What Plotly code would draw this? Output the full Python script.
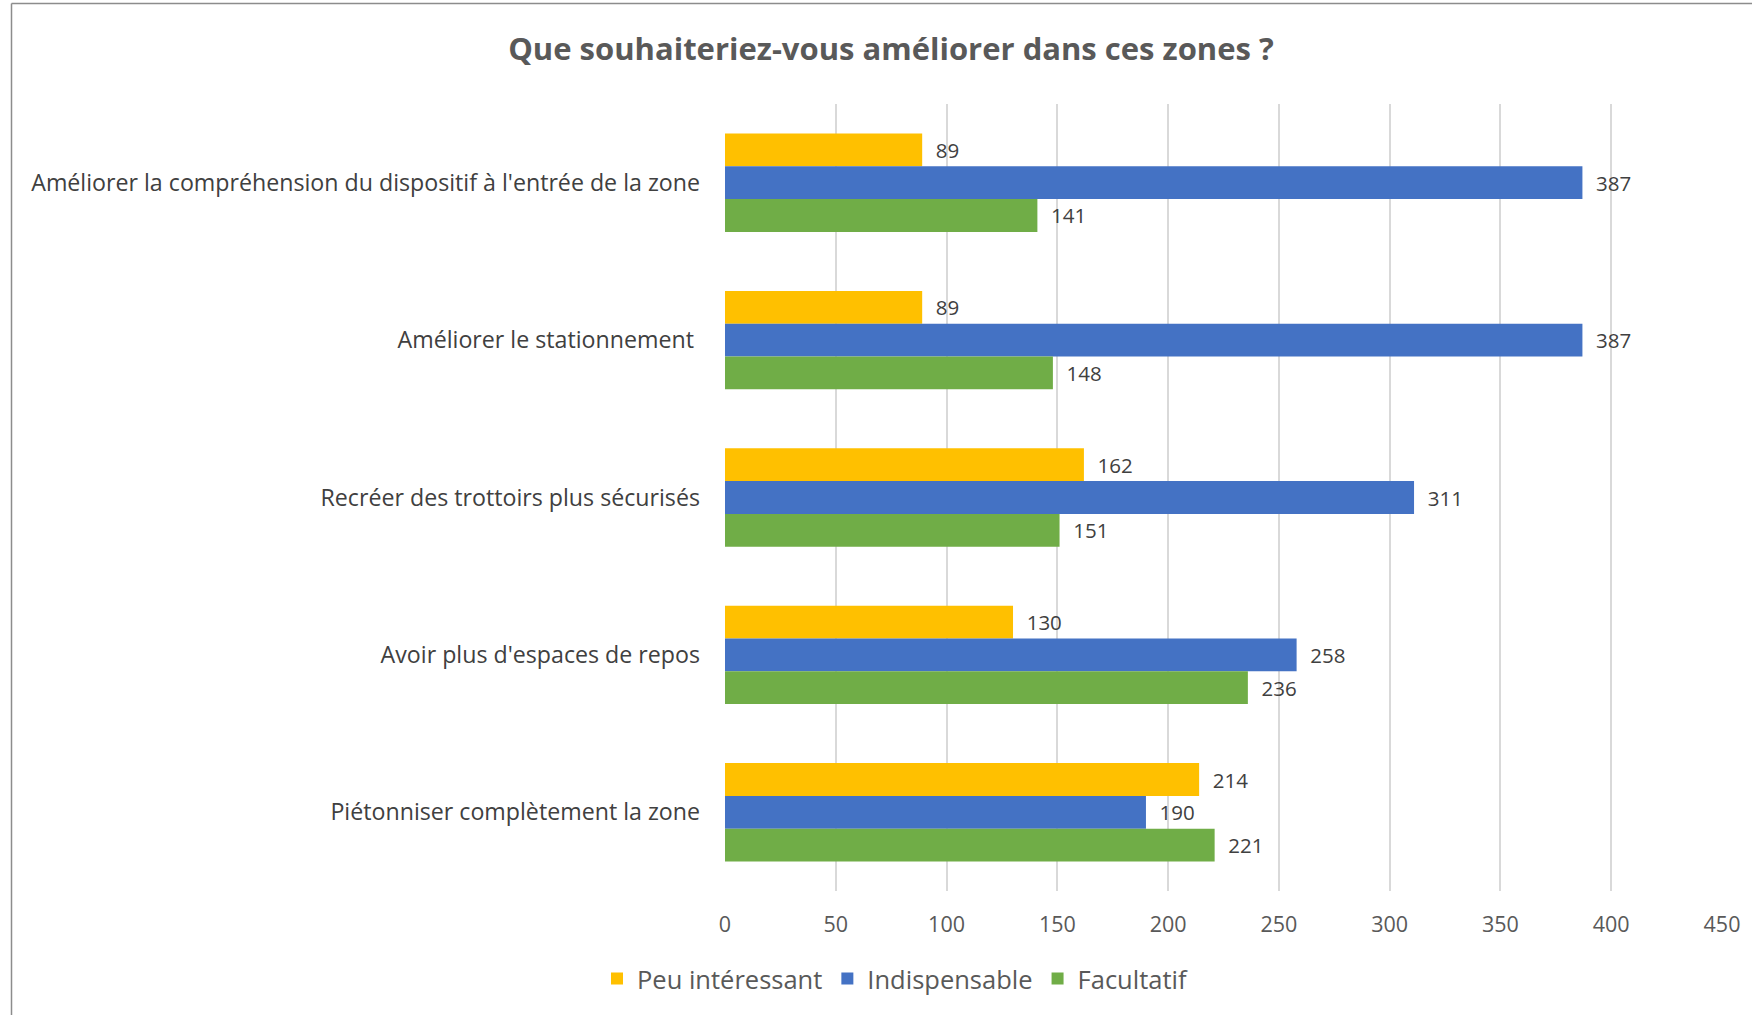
import plotly.graph_objects as go

categories = [
    "Améliorer la compréhension du dispositif à l'entrée de la zone",
    "Améliorer le stationnement ",
    "Recréer des trottoirs plus sécurisés",
    "Avoir plus d'espaces de repos",
    "Piétonniser complètement la zone",
]
peu_interessant = [89, 89, 162, 130, 214]
indispensable = [387, 387, 311, 258, 190]
facultatif = [141, 148, 151, 236, 221]

series_names = ["Peu intéressant", "Indispensable", "Facultatif"]
series_colors = ["#FFC000", "#4472C4", "#70AD47"]
x_ticks = [0, 50, 100, 150, 200, 250, 300, 350, 400, 450]

W, H = 1752, 1015
ml, mr, mt, mb = 725, 30, 104, 124
pw, ph = W - ml - mr, H - mt - mb
FONT = "Open Sans"

fig = go.Figure()
for name, vals, col in zip(series_names, [peu_interessant, indispensable, facultatif], series_colors):
    fig.add_trace(go.Bar(
        y=categories, x=vals, name=name, orientation="h",
        marker=dict(color=col, line=dict(width=0)),
        text=vals, texttemplate="\u00a0\u00a0%{x}", textposition="outside",
        textfont=dict(family=FONT, size=20.5, color="#404040"),
        cliponaxis=False,
    ))

def px_to_paper_x(px):
    return (px - ml) / pw
def px_to_paper_y(py):
    return (H - mb - py) / ph

# chart border (top and left edges visible)
fig.add_shape(type="line", xref="paper", yref="paper",
              x0=px_to_paper_x(11.5), x1=px_to_paper_x(W + 20),
              y0=px_to_paper_y(3.5), y1=px_to_paper_y(3.5),
              line=dict(color="#8c8c8c", width=1.5))
fig.add_shape(type="line", xref="paper", yref="paper",
              x0=px_to_paper_x(11.5), x1=px_to_paper_x(11.5),
              y0=px_to_paper_y(3.5), y1=px_to_paper_y(H + 20),
              line=dict(color="#8c8c8c", width=1.5))

fig.update_layout(
    width=W, height=H,
    margin=dict(l=ml, r=mr, t=mt, b=mb, autoexpand=False),
    paper_bgcolor="white", plot_bgcolor="white",
    barmode="group", bargap=0.375, bargroupgap=0,
    title=dict(text="<b>Que souhaiteriez-vous améliorer dans ces zones ?</b>",
               font=dict(family=FONT, size=31, color="#595959"),
               xref="container", x=891 / W, xanchor="center",
               yref="container", y=1 - 49 / H, yanchor="middle"),
    xaxis=dict(range=[0, 450], tickvals=x_ticks, showgrid=True,
               gridcolor="#d9d9d9", gridwidth=1.5, zeroline=False,
               showline=False, ticks="",
               tickfont=dict(family=FONT, size=21.5, color="#595959"),
               ticklabelstandoff=18),
    yaxis=dict(autorange="reversed", showgrid=False, showline=False, ticks="",
               tickfont=dict(family=FONT, size=23.2, color="#404040"),
               ticklabelstandoff=24),
    legend=dict(orientation="h", x=(895 - ml) / pw, xanchor="center",
                y=px_to_paper_y(979), yanchor="middle",
                font=dict(family=FONT, size=25.5, color="#595959"),
                itemwidth=30, traceorder="normal"),
    showlegend=True,
)

fig.write_html(
    "out.html",
    config={"displayModeBar": False},
    post_script="document.body.style.margin='0';document.body.style.overflow='hidden';",
)
